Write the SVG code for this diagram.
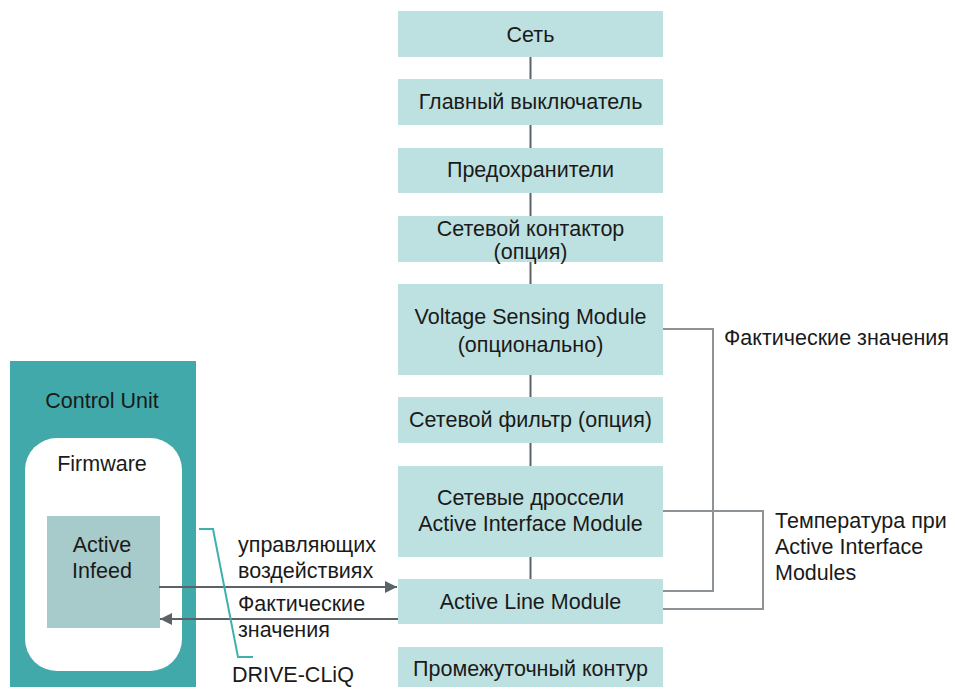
<svg xmlns="http://www.w3.org/2000/svg" width="955" height="687" viewBox="0 0 955 687">
<defs>
<style>
text{font-family:"Liberation Sans",Arial,sans-serif;font-size:21.5px;fill:#1a1a1a}
.c{text-anchor:middle}
.box{fill:#bde1e0}
.v{stroke:#5b6368;stroke-width:2;fill:none}
.r{stroke:#8d9397;stroke-width:2;fill:none}
.a{stroke:#5b6368;stroke-width:2;fill:none}
</style>
<marker id="ah" viewBox="0 0 10 10" refX="10" refY="5" markerWidth="12" markerHeight="12" markerUnits="userSpaceOnUse" orient="auto"><path d="M0,0L10,5L0,10z" fill="#5b6368"/></marker>
</defs>
<g id="n1"><rect class="box" x="398" y="11" width="265" height="46"/><text class="c" x="530.5" y="42">Сеть</text></g>
<g id="n2"><rect class="box" x="398" y="79" width="265" height="46"/><text class="c" x="530.5" y="109">Главный выключатель</text></g>
<g id="n3"><rect class="box" x="398" y="148" width="265" height="45"/><text class="c" x="530.5" y="177">Предохранители</text></g>
<g id="n4"><rect class="box" x="398" y="216" width="265" height="46"/><text class="c" x="530.5" y="236">Сетевой контактор</text><text class="c" x="530.5" y="259">(опция)</text></g>
<g id="n5"><rect class="box" x="398" y="284" width="265" height="91"/><text class="c" x="530.5" y="324">Voltage Sensing Module</text><text class="c" x="530.5" y="352">(опционально)</text></g>
<g id="n6"><rect class="box" x="398" y="397" width="265" height="46"/><text class="c" x="530.5" y="427">Сетевой фильтр (опция)</text></g>
<g id="n7"><rect class="box" x="398" y="466" width="265" height="91"/><text class="c" x="530.5" y="505">Сетевые дроссели</text><text class="c" x="530.5" y="531">Active Interface Module</text></g>
<g id="n8"><rect class="box" x="398" y="579" width="265" height="45"/><text class="c" x="530.5" y="609">Active Line Module</text></g>
<g id="n9"><rect class="box" x="398" y="647" width="265" height="40"/><text class="c" x="530.5" y="676">Промежуточный контур</text></g>
<g id="cu">
<rect x="10" y="361" width="186" height="326" fill="#41a9a9"/>
<text class="c" x="102" y="408">Control Unit</text>
<g id="fw"><rect x="25" y="438" width="157" height="233" rx="32" ry="32" fill="#ffffff"/><text class="c" x="102" y="471">Firmware</text></g>
<g id="ai"><rect x="47" y="516" width="113" height="112" fill="#a7cacb"/><text class="c" x="102" y="552">Active</text><text class="c" x="102" y="578">Infeed</text></g>
</g>
<g id="connectors">
<line class="v" x1="530.5" y1="57" x2="530.5" y2="79"/>
<line class="v" x1="530.5" y1="125" x2="530.5" y2="148"/>
<line class="v" x1="530.5" y1="193" x2="530.5" y2="216"/>
<line class="v" x1="530.5" y1="262" x2="530.5" y2="284"/>
<line class="v" x1="530.5" y1="375" x2="530.5" y2="397"/>
<line class="v" x1="530.5" y1="443" x2="530.5" y2="466"/>
<line class="v" x1="530.5" y1="557" x2="530.5" y2="579"/>
<polyline class="r" points="663,329 713,329 713,591 663,591"/>
<polyline class="r" points="663,511 763,511 763,609 663,609"/>
<line class="a" x1="159" y1="587" x2="397" y2="587" marker-end="url(#ah)"/>
<line class="a" x1="398" y1="619" x2="160" y2="619" marker-end="url(#ah)"/>
<polyline points="199,529 213,529 238,657 253,657" fill="none" stroke="#3fb0ae" stroke-width="2"/>
</g>
<g id="labels">
<text x="724" y="345">Фактические значения</text>
<text x="775" y="528">Температура при</text>
<text x="775" y="554">Active Interface</text>
<text x="775" y="580">Modules</text>
<text x="238" y="552">управляющих</text>
<text x="238" y="578">воздействиях</text>
<text x="238" y="611">Фактические</text>
<text x="238" y="637">значения</text>
<text x="232" y="682">DRIVE-CLiQ</text>
</g>
</svg>
